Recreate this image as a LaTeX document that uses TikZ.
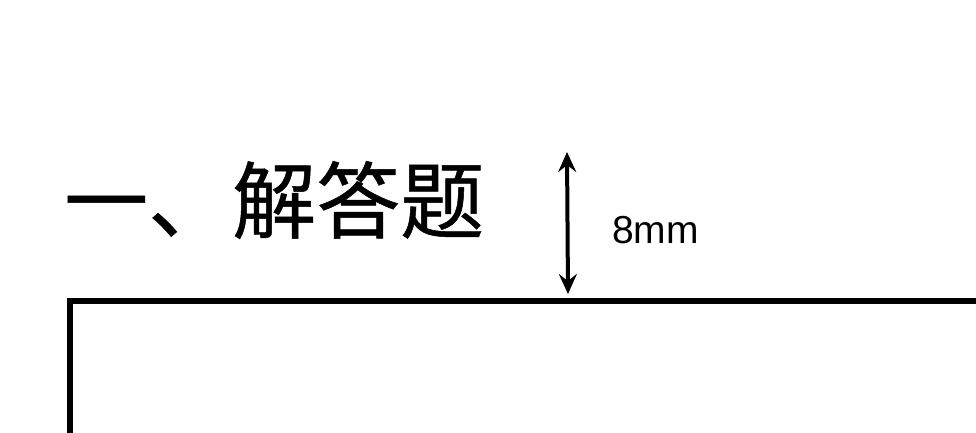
\documentclass[tikz,border=0pt]{standalone}
\usepackage{fontspec}
\setmainfont{Liberation Sans}
\newfontfamily\cjk[FakeBold=0.6]{Noto Sans CJK SC}
\usetikzlibrary{arrows.meta}
\tikzset{
  boxline/.style={line width=6pt, line join=miter},
  dimarrow/.style={line width=4pt, {Stealth[length=20pt,width=18pt,inset=7pt]}-{Stealth[length=20pt,width=18pt,inset=7pt]}},
  titletext/.style={inner sep=0pt, font=\cjk\fontsize{84}{90}\selectfont},
  dimtext/.style={inner sep=0pt, font=\fontsize{39}{44}\selectfont}
}
\begin{document}
\begin{tikzpicture}[x=1pt,y=-1pt]
\useasboundingbox (0,0) rectangle (976,432);
\clip (0,0) rectangle (976,432);
\coordinate (boxbl) at (69.5,450);
\coordinate (boxtl) at (69.5,300.5);
\coordinate (boxtr) at (1000,300.5);
\draw[boxline] (boxbl) -- (boxtl) -- (boxtr);
\coordinate (arrtop) at (567,152);
\coordinate (arrbot) at (568,294);
\draw[dimarrow] (arrtop) -- (arrbot);
\node[titletext, anchor=base west] (title) at (64,232) {一、解答题};
\node[dimtext, anchor=base west] (dim) at (612,243) {8mm};
\end{tikzpicture}
\end{document}
